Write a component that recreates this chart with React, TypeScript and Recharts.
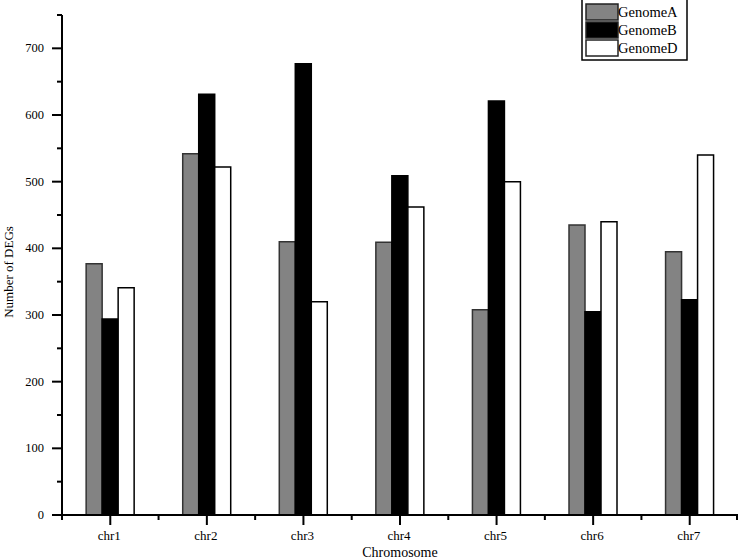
import React from "react";
import { BarChart, Bar, XAxis, YAxis } from "recharts";

const categories = ["chr1", "chr2", "chr3", "chr4", "chr5", "chr6", "chr7"];
const genomeA = [377, 542, 410, 409, 308, 435, 395];
const genomeB = [294, 631, 677, 509, 621, 305, 323];
const genomeD = [341, 522, 320, 462, 500, 440, 540];
const yTicks = [0, 50, 100, 150, 200, 250, 300, 350, 400, 450, 500, 550, 600, 650, 700, 750];
const seriesNames = ["GenomeA", "GenomeB", "GenomeD"];

const data = categories.map((c, i) => ({
  name: c,
  GenomeA: genomeA[i],
  GenomeB: genomeB[i],
  GenomeD: genomeD[i],
}));

const FONT = "'Liberation Serif', 'Times New Roman', serif";

const YTick = (props: any) => {
  const { x, y, payload } = props;
  const v = payload.value;
  const major = v % 100 === 0 && v <= 700;
  return (
    <g>
      <line x1={x - (major ? 10 : 5)} x2={x} y1={y} y2={y} stroke="#000" strokeWidth={2} />
      {major && (
        <text x={x - 18} y={y} textAnchor="end" dominantBaseline="central" fontFamily={FONT} fontSize={12.5} fill="#000">
          {v}
        </text>
      )}
    </g>
  );
};

const XTick = (props: any) => {
  const { x, y, payload, index } = props;
  const half = payload.offset && payload.offset > 0 ? payload.offset : 48.3;
  const isLast = index === categories.length - 1;
  return (
    <g>
      <line x1={x} x2={x} y1={y} y2={y + 10} stroke="#000" strokeWidth={2} />
      <line x1={x - half} x2={x - half} y1={y} y2={y + 5} stroke="#000" strokeWidth={2} />
      {isLast && <line x1={x + half - 1} x2={x + half - 1} y1={y} y2={y + 5} stroke="#000" strokeWidth={2} />}
      <text x={x - 1} y={y + 25} textAnchor="middle" fontFamily={FONT} fontSize={13} fill="#000">
        {payload.value}
      </text>
    </g>
  );
};

const fills = ["#838383", "#000000", "#ffffff"];

const LegendBox = () => (
  <svg width={108} height={62} style={{ display: "block" }}>
    <rect x={1} y={-2} width={105} height={62} fill="#fff" stroke="#000" strokeWidth={1.5} />
    {seriesNames.map((n, i) => (
      <g key={n}>
        <rect x={5} y={4 + i * 18} width={32} height={16} fill={fills[i]} stroke="#222" strokeWidth={1.5} />
        <text x={37} y={17 + i * 18} fontFamily={FONT} fontSize={14.5} fill="#000">
          {n}
        </text>
      </g>
    ))}
  </svg>
);

export default function App() {
  return (
    <div style={{ position: "absolute", left: 0, top: 0, width: 740, height: 560, background: "#fff" }}>
      <BarChart
        width={740}
        height={560}
        data={data}
        margin={{ top: 15, right: 2, left: 0, bottom: 0 }}
        barCategoryGap="25%"
        barGap={0}
      >
        <XAxis
          dataKey="name"
          height={45}
          tickSize={0}
          tickMargin={0}
          tickLine={false}
          axisLine={{ stroke: "#000", strokeWidth: 2 }}
          tick={<XTick />}
          interval={0}
          label={(p: any) => (
            <text x={400} y={557} textAnchor="middle" fontFamily={FONT} fontSize={14} fill="#000">
              Chromosome
            </text>
          )}
        />
        <YAxis
          width={62}
          domain={[0, 750]}
          ticks={yTicks}
          interval={0}
          tickSize={0}
          tickMargin={0}
          tickLine={false}
          axisLine={{ stroke: "#000", strokeWidth: 2 }}
          tick={<YTick />}
          label={(p: any) => (
            <text
              x={8}
              y={272}
              transform="rotate(-90 8 272)"
              textAnchor="middle"
              dominantBaseline="central"
              fontFamily={FONT}
              fontSize={13}
              fill="#000"
            >
              Number of DEGs
            </text>
          )}
        />
        <Bar dataKey="GenomeA" fill="#838383" stroke="#333" strokeWidth={1.5} isAnimationActive={false} />
        <Bar dataKey="GenomeB" fill="#000" stroke="#000" strokeWidth={1.5} isAnimationActive={false} />
        <Bar dataKey="GenomeD" fill="#fff" stroke="#000" strokeWidth={1.5} isAnimationActive={false} />
      </BarChart>
      <div style={{ position: "absolute", left: 581, top: 0, width: 108, height: 62 }}>
        <LegendBox />
      </div>
    </div>
  );
}
